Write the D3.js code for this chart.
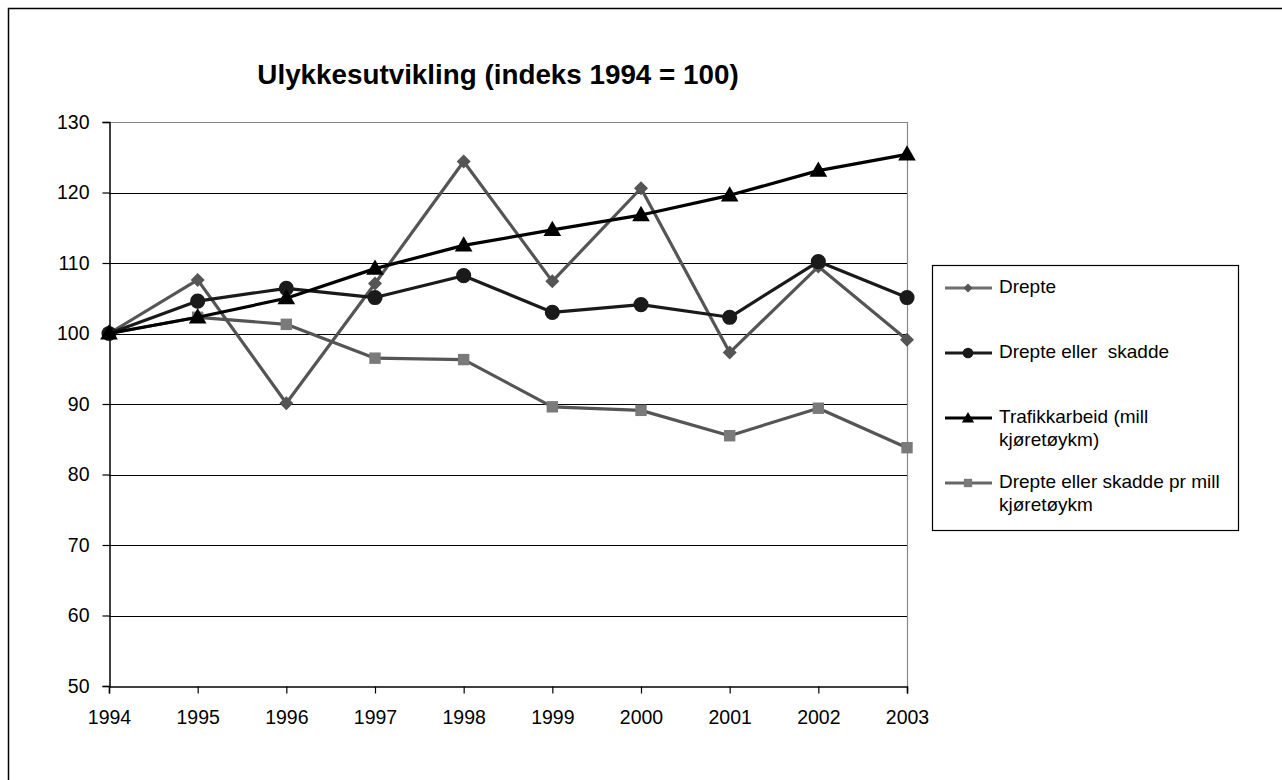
<!DOCTYPE html>
<html>
<head>
<meta charset="utf-8">
<script src="https://cdn.jsdelivr.net/npm/d3@7"></script>
<style>
  html, body { margin: 0; padding: 0; background: #fff; }
  svg { display: block; font-family: Arial, "Liberation Sans", sans-serif; }
</style>
</head>
<body>
<svg id="chart" width="1282" height="780"></svg>
<script>
const years = [1994, 1995, 1996, 1997, 1998, 1999, 2000, 2001, 2002, 2003];
const drepte = [100, 107.6, 90.1, 107.1, 124.4, 107.4, 120.6, 97.3, 109.5, 99.1];
const drepteEllerSkadde = [100, 104.6, 106.4, 105.1, 108.2, 103.0, 104.1, 102.3, 110.2, 105.1];
const trafikkarbeid = [100, 102.3, 105.0, 109.2, 112.5, 114.7, 116.8, 119.6, 123.1, 125.4];
const prMill = [100, 102.3, 101.3, 96.5, 96.3, 89.6, 89.1, 85.5, 89.4, 83.8];
const yTicks = [50, 60, 70, 80, 90, 100, 110, 120, 130];
const title = "Ulykkesutvikling (indeks 1994 = 100)";

const series = [
  { name: ["Drepte"], values: drepte, line: "#555555", fill: "#555555", marker: "diamond" },
  { name: ["Drepte eller  skadde"], values: drepteEllerSkadde, line: "#1a1a1a", fill: "#1a1a1a", marker: "circle" },
  { name: ["Trafikkarbeid (mill", "kjøretøykm)"], values: trafikkarbeid, line: "#000000", fill: "#000000", marker: "triangle" },
  { name: ["Drepte eller skadde pr mill", "kjøretøykm"], values: prMill, line: "#555555", fill: "#7a7a7a", marker: "square" }
];

const svg = d3.select("#chart");

// outer frame
svg.append("rect").attr("x", 8.5).attr("y", 8.5).attr("width", 1290).attr("height", 800)
  .attr("fill", "#fff").attr("stroke", "#000").attr("stroke-width", 1.5);

const pLeft = 109, pRight = 907, pTop = 122, pBottom = 686;
const x = d3.scalePoint().domain(years).range([pLeft, pRight]);
const y = d3.scaleLinear().domain([50, 130]).range([pBottom, pTop]);

// title
svg.append("text").attr("x", 498).attr("y", 84).attr("text-anchor", "middle")
  .attr("font-size", 27.8).attr("font-weight", "bold").attr("fill", "#000").text(title);

// gridlines
svg.append("g").selectAll("line").data(yTicks.filter(t => t > 50)).join("line")
  .attr("x1", pLeft).attr("x2", pRight)
  .attr("y1", d => Math.round(y(d)) + 0.5).attr("y2", d => Math.round(y(d)) + 0.5)
  .attr("stroke", d => d === 130 ? "#888" : "#000").attr("stroke-width", 1);
// right plot border
svg.append("line").attr("x1", pRight + 0.5).attr("x2", pRight + 0.5).attr("y1", pTop).attr("y2", pBottom)
  .attr("stroke", "#888").attr("stroke-width", 1.2);

// y axis
const yAxis = d3.axisLeft(y).tickValues(yTicks).tickSize(7).tickPadding(13).tickFormat(d3.format("d"));
const gy = svg.append("g").attr("transform", `translate(${pLeft + 0.5},0)`).call(yAxis);
gy.select(".domain").attr("stroke", "#000").attr("stroke-width", 1.5);
gy.selectAll(".tick line").attr("stroke", "#000").attr("stroke-width", 1.2);
gy.selectAll(".tick text").attr("font-size", 19.5).attr("fill", "#000").attr("font-family", "Arial, 'Liberation Sans', sans-serif");

// x axis
const xAxis = d3.axisBottom(x).tickSize(7).tickPadding(17).tickFormat(d => String(d));
const gx = svg.append("g").attr("transform", `translate(0,${pBottom + 0.5})`).call(xAxis);
gx.select(".domain").attr("stroke", "#000").attr("stroke-width", 1.5);
gx.selectAll(".tick line").attr("stroke", "#000").attr("stroke-width", 1.2);
gx.selectAll(".tick text").attr("font-size", 19.5).attr("fill", "#000").attr("font-family", "Arial, 'Liberation Sans', sans-serif");

const symbolFor = {
  diamond: () => d3.symbol().type(d3.symbolSquare).size(98)(),
  circle: () => d3.symbol().type(d3.symbolCircle).size(180)(),
  triangle: () => d3.symbol().type(d3.symbolTriangle).size(135)(),
  square: () => d3.symbol().type(d3.symbolSquare).size(130)()
};
const rotFor = { diamond: 45, circle: 0, triangle: 0, square: 0 };
const line = d3.line().x((d, i) => x(years[i])).y(d => y(d));

// draw order: squares, diamonds, circles, triangles
const drawOrder = [3, 0, 1, 2];
drawOrder.forEach(si => {
  const s = series[si];
  const g = svg.append("g");
  g.append("path").datum(s.values).attr("d", line).attr("fill", "none")
    .attr("stroke", s.line).attr("stroke-width", 3.2).attr("stroke-linejoin", "round");
  g.selectAll("path.m").data(s.values).join("path").attr("class", "m")
    .attr("d", symbolFor[s.marker]())
    .attr("transform", (d, i) => `translate(${x(years[i])},${y(d) + (s.marker === "triangle" ? 1 : 0)}) rotate(${rotFor[s.marker]})`)
    .attr("fill", s.fill);
});

// legend
const lg = svg.append("g");
lg.append("rect").attr("x", 932.5).attr("y", 265.5).attr("width", 306).attr("height", 265)
  .attr("fill", "#fff").attr("stroke", "#000").attr("stroke-width", 1.2);
const legendY = [288, 353, 418, 483];
const legendLine = ["#707070", "#1a1a1a", "#000", "#666"];
series.forEach((s, i) => {
  const ly = legendY[i];
  lg.append("line").attr("x1", 945).attr("x2", 992).attr("y1", ly).attr("y2", ly)
    .attr("stroke", legendLine[i]).attr("stroke-width", 3);
  const sz = { diamond: 40, circle: 90, triangle: 65, square: 70 }[s.marker];
  const type = { diamond: d3.symbolSquare, circle: d3.symbolCircle, triangle: d3.symbolTriangle, square: d3.symbolSquare }[s.marker];
  lg.append("path").attr("d", d3.symbol().type(type).size(sz)())
    .attr("transform", `translate(968,${ly + (s.marker === "triangle" ? 1 : 0)}) rotate(${rotFor[s.marker]})`)
    .attr("fill", s.fill);
  const t = lg.append("text").attr("x", 999).attr("y", ly + 5).attr("font-size", 19).attr("fill", "#000");
  s.name.forEach((n, k) => {
    t.append("tspan").attr("x", 999).attr("dy", k === 0 ? 0 : 23).text(n).style("white-space", "pre");
  });
});
</script>
</body>
</html>
